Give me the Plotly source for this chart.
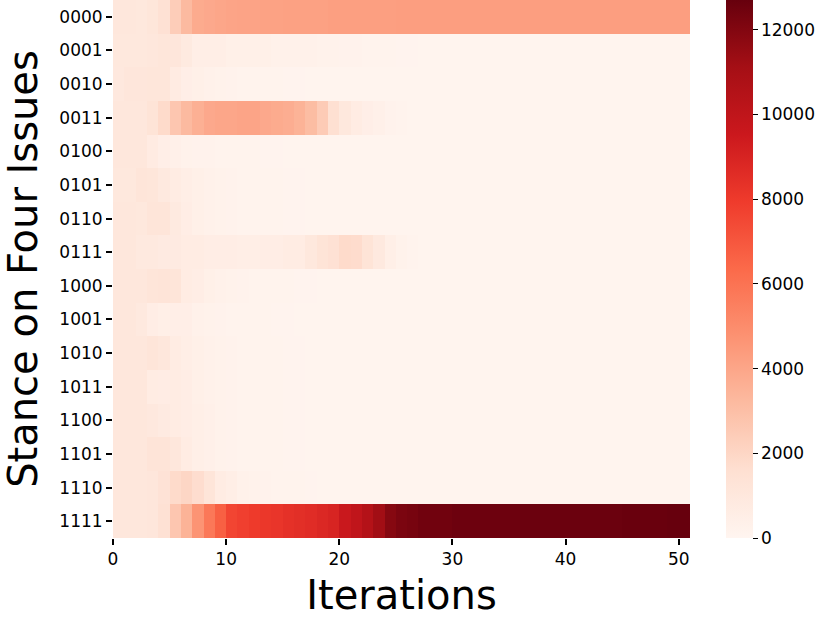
import plotly.graph_objects as go

# Iteration bin edges (cells span [i, i+1])
iteration_edges = list(range(52))

stances = ["0000", "0001", "0010", "0011", "0100", "0101", "0110", "0111",
           "1000", "1001", "1010", "1011", "1100", "1101", "1110", "1111"]

s0000 = [1060, 1060, 1000, 1150, 1500, 2400, 3200, 3800, 3900, 4000,
         4050, 4100, 4100, 4150, 4150, 4200, 4200, 4200, 4200, 4250,
         4250, 4250, 4250, 4250, 4250, 4300, 4300, 4300, 4300, 4300,
         4300, 4300, 4300, 4300, 4300, 4300, 4300, 4300, 4300, 4300,
         4300, 4300, 4300, 4300, 4300, 4300, 4300, 4300, 4300, 4300, 4300]
s0001 = [1000, 1000, 1000, 1050, 1150, 1100, 850, 550, 550, 550,
         400, 400, 400, 400, 300, 300, 300, 300, 250, 250,
         200, 200, 180, 160, 140, 130, 120, 110, 100, 100,
         100, 100, 100, 100, 100, 90, 90, 90, 90, 90,
         80, 80, 80, 80, 80, 80, 80, 80, 80, 80, 80]
s0010 = [950, 1100, 1100, 1150, 1150, 750, 500, 400, 300, 250,
         200, 180, 160, 150, 140, 130, 120, 110, 100, 100,
         100, 100, 90, 90, 90, 90, 90, 90, 90, 90,
         80, 80, 80, 80, 80, 80, 80, 80, 80, 80,
         80, 80, 80, 80, 80, 80, 80, 80, 80, 80, 80]
s0011 = [1060, 1060, 1050, 1300, 1800, 2700, 3200, 3600, 3900, 4000,
         4000, 4050, 4050, 3900, 3800, 3700, 3500, 3100, 2500, 1600,
         1000, 700, 500, 350, 220, 150, 100, 90, 90, 90,
         90, 90, 80, 80, 80, 80, 80, 80, 80, 80,
         80, 80, 80, 80, 80, 80, 80, 80, 80, 80, 80]
s0100 = [1060, 1060, 1060, 750, 500, 350, 250, 200, 200, 180,
         160, 150, 140, 130, 120, 110, 100, 100, 100, 100,
         90, 90, 90, 90, 90, 90, 90, 90, 90, 90,
         80, 80, 80, 80, 80, 80, 80, 80, 80, 80,
         80, 80, 80, 80, 80, 80, 80, 80, 80, 80, 80]
s0101 = [1000, 1000, 1200, 1150, 900, 700, 550, 400, 300, 250,
         200, 180, 160, 150, 140, 130, 120, 110, 100, 100,
         90, 90, 90, 90, 90, 90, 90, 90, 90, 90,
         80, 80, 80, 80, 80, 80, 80, 80, 80, 80,
         80, 80, 80, 80, 80, 80, 80, 80, 80, 80, 80]
s0110 = [1050, 1050, 1000, 1200, 1200, 850, 600, 400, 300, 250,
         200, 180, 160, 150, 140, 130, 120, 110, 100, 100,
         90, 90, 90, 90, 90, 90, 90, 90, 90, 90,
         80, 80, 80, 80, 80, 80, 80, 80, 80, 80,
         80, 80, 80, 80, 80, 80, 80, 80, 80, 80, 80]
s0111 = [1060, 1060, 900, 900, 800, 800, 700, 700, 600, 600,
         600, 550, 550, 600, 600, 700, 700, 1000, 1300, 1500,
         1800, 1750, 1300, 900, 450, 250, 150, 110, 100, 90,
         90, 90, 80, 80, 80, 80, 80, 80, 80, 80,
         80, 80, 80, 80, 80, 80, 80, 80, 80, 80, 80]
s1000 = [1060, 1060, 1060, 1200, 1250, 1200, 700, 600, 400, 300,
         250, 200, 180, 160, 150, 140, 130, 120, 110, 100,
         90, 90, 90, 90, 90, 90, 90, 90, 90, 90,
         80, 80, 80, 80, 80, 80, 80, 80, 80, 80,
         80, 80, 80, 80, 80, 80, 80, 80, 80, 80, 80]
s1001 = [1060, 1060, 900, 600, 450, 500, 500, 300, 250, 200,
         180, 160, 150, 140, 130, 120, 110, 100, 100, 90,
         90, 90, 90, 90, 90, 90, 90, 90, 90, 90,
         80, 80, 80, 80, 80, 80, 80, 80, 80, 80,
         80, 80, 80, 80, 80, 80, 80, 80, 80, 80, 80]
s1010 = [1060, 1060, 1060, 1200, 1050, 700, 550, 400, 300, 250,
         200, 180, 160, 150, 140, 130, 120, 110, 100, 100,
         90, 90, 90, 90, 90, 90, 90, 90, 90, 90,
         80, 80, 80, 80, 80, 80, 80, 80, 80, 80,
         80, 80, 80, 80, 80, 80, 80, 80, 80, 80, 80]
s1011 = [1060, 1060, 1060, 700, 650, 700, 600, 400, 300, 250,
         200, 180, 160, 150, 140, 130, 120, 110, 100, 100,
         90, 90, 90, 90, 90, 90, 90, 90, 90, 90,
         80, 80, 80, 80, 80, 80, 80, 80, 80, 80,
         80, 80, 80, 80, 80, 80, 80, 80, 80, 80, 80]
s1100 = [1060, 1060, 1060, 950, 800, 700, 600, 450, 350, 250,
         200, 180, 160, 150, 140, 130, 120, 110, 100, 100,
         90, 90, 90, 90, 90, 90, 90, 90, 90, 90,
         80, 80, 80, 80, 80, 80, 80, 80, 80, 80,
         80, 80, 80, 80, 80, 80, 80, 80, 80, 80, 80]
s1101 = [1060, 1060, 1060, 1250, 1250, 1050, 700, 450, 350, 250,
         200, 180, 160, 150, 140, 130, 120, 110, 100, 100,
         90, 90, 90, 90, 90, 90, 90, 90, 90, 90,
         80, 80, 80, 80, 80, 80, 80, 80, 80, 80,
         80, 80, 80, 80, 80, 80, 80, 80, 80, 80, 80]
s1110 = [1060, 1060, 1060, 1100, 1400, 1800, 2000, 1700, 1200, 700,
         550, 300, 250, 200, 180, 160, 140, 120, 110, 100,
         90, 90, 90, 90, 90, 90, 90, 90, 90, 90,
         80, 80, 80, 80, 80, 80, 80, 80, 80, 80,
         80, 80, 80, 80, 80, 80, 80, 80, 80, 80, 80]
s1111 = [1060, 1060, 1060, 1100, 1500, 2700, 3500, 4700, 5800, 6700,
         7600, 7800, 8000, 8100, 8200, 8400, 8500, 8600, 8800, 9000,
         9600, 10000, 10500, 11200, 11900, 12200, 12300, 12450, 12450, 12450,
         12550, 12550, 12550, 12550, 12550, 12550, 12600, 12600, 12600, 12600,
         12600, 12600, 12600, 12600, 12600, 12650, 12650, 12650, 12650, 12700, 12700]

rows = [s0000, s0001, s0010, s0011, s0100, s0101, s0110, s0111,
        s1000, s1001, s1010, s1011, s1100, s1101, s1110, s1111]
for r in rows:
    assert len(r) == 51, len(r)

x_ticks = [0, 10, 20, 30, 40, 50]
cbar_ticks = [0, 2000, 4000, 6000, 8000, 10000, 12000]

reds = [[0.0, "#fff5f0"], [0.125, "#fee0d2"], [0.25, "#fcbba1"], [0.375, "#fc9272"],
        [0.5, "#fb6a4a"], [0.625, "#ef3b2c"], [0.75, "#cb181d"], [0.875, "#a50f15"],
        [1.0, "#67000d"]]

font_family = "DejaVu Sans"

fig = go.Figure(go.Heatmap(
    z=rows,
    x=iteration_edges,
    y=stances,
    colorscale=reds,
    zmin=0,
    zmax=12700,
    colorbar=dict(
        x=1.0624, xanchor="left", y=0.5, yanchor="middle",
        len=1, lenmode="fraction", thickness=27, ypad=0, xpad=0,
        outlinewidth=0, ticks="outside", ticklen=5, tickwidth=1.3,
        tickcolor="black", tickvals=cbar_ticks, tickformat="d",
        tickfont=dict(family=font_family, size=17, color="black"),
    ),
))

fig.update_layout(
    width=831, height=619,
    margin=dict(l=113, r=141, t=0, b=81, autoexpand=False),
    paper_bgcolor="white", plot_bgcolor="white",
    font=dict(family=font_family, color="black"),
)
fig.update_xaxes(
    range=[0, 51], tickvals=x_ticks, ticks="outside", ticklen=6, tickwidth=1.5,
    tickcolor="black", showgrid=False, zeroline=False, showline=False,
    automargin=True, tickfont=dict(size=17),
    title=dict(text="Iterations", font=dict(size=40), standoff=12),
)
fig.update_yaxes(
    autorange="reversed", ticks="outside", ticklen=6, tickwidth=1.5,
    tickcolor="black", showgrid=False, zeroline=False, showline=False,
    automargin=True, tickfont=dict(size=17),
    title=dict(text="Stance on Four Issues", font=dict(size=40), standoff=20),
)

fig.write_html(
    "out.html",
    config={"displayModeBar": False},
    post_script="document.body.style.margin='0';document.body.style.padding='0';",
)
